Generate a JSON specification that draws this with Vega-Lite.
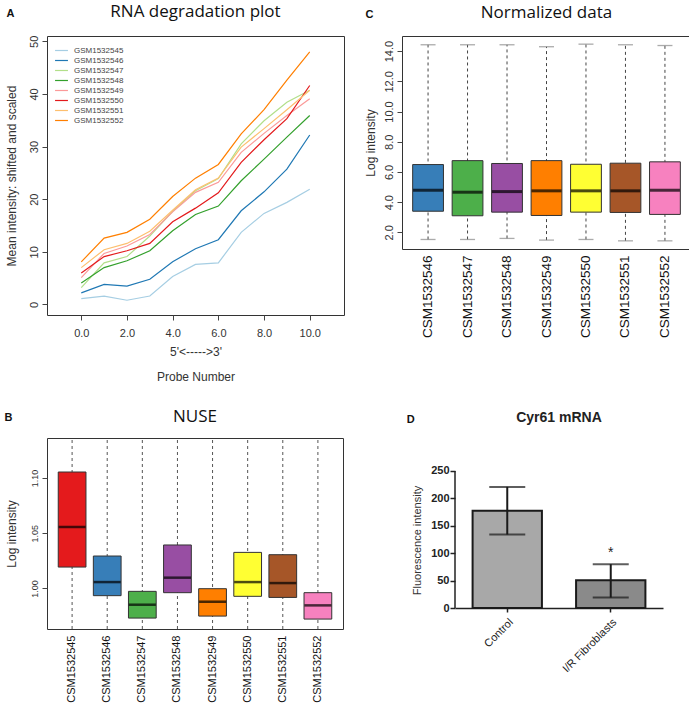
{
  "$schema": "https://vega.github.io/schema/vega-lite/v6.json",
  "padding": {"left": 4, "top": 2, "right": 0, "bottom": 0},
  "background": "white",
  "config": {
    "font": "Liberation Sans",
    "axis": {"grid": false, "domain": false, "tickColor": "#444", "labelColor": "#333", "titleColor": "#333", "titleFontWeight": "normal", "labelFontSize": 11, "titleFontSize": 12, "labelOverlap": false},
    "title": {"font": "Open Sans", "fontWeight": "normal", "fontSize": 17, "color": "#111"}
  },
  "resolve": {"scale": {"fill": "independent", "color": "independent"}},
  "spacing": 24,
  "vconcat": [
    {
      "spacing": 18,
      "resolve": {"scale": {"fill": "independent", "color": "independent"}},
      "hconcat": [
        {
          "title": {"text": "A", "anchor": "start", "font": "Liberation Sans", "fontSize": 11, "fontWeight": "bold", "offset": -16, "dx": 2},
          "vconcat": [
            {
              "width": 297, "height": 279,
              "view": {"stroke": "#333", "strokeWidth": 1},
              "title": {"text": "RNA degradation plot", "offset": 14},
              "data": {"values": [
                {"s":"GSM1532545","p":0,"v":1.1},{"s":"GSM1532545","p":1,"v":1.6},{"s":"GSM1532545","p":2,"v":0.8},{"s":"GSM1532545","p":3,"v":1.6},{"s":"GSM1532545","p":4,"v":5.3},{"s":"GSM1532545","p":5,"v":7.6},{"s":"GSM1532545","p":6,"v":7.9},{"s":"GSM1532545","p":7,"v":13.7},{"s":"GSM1532545","p":8,"v":17.3},{"s":"GSM1532545","p":9,"v":19.4},{"s":"GSM1532545","p":10,"v":21.9},
                {"s":"GSM1532546","p":0,"v":2.2},{"s":"GSM1532546","p":1,"v":3.8},{"s":"GSM1532546","p":2,"v":3.5},{"s":"GSM1532546","p":3,"v":4.8},{"s":"GSM1532546","p":4,"v":8.1},{"s":"GSM1532546","p":5,"v":10.6},{"s":"GSM1532546","p":6,"v":12.3},{"s":"GSM1532546","p":7,"v":17.8},{"s":"GSM1532546","p":8,"v":21.4},{"s":"GSM1532546","p":9,"v":25.7},{"s":"GSM1532546","p":10,"v":32.2},
                {"s":"GSM1532547","p":0,"v":3.2},{"s":"GSM1532547","p":1,"v":7.9},{"s":"GSM1532547","p":2,"v":9.1},{"s":"GSM1532547","p":3,"v":13.0},{"s":"GSM1532547","p":4,"v":17.7},{"s":"GSM1532547","p":5,"v":21.6},{"s":"GSM1532547","p":6,"v":23.9},{"s":"GSM1532547","p":7,"v":30.5},{"s":"GSM1532547","p":8,"v":34.9},{"s":"GSM1532547","p":9,"v":38.4},{"s":"GSM1532547","p":10,"v":40.7},
                {"s":"GSM1532548","p":0,"v":4.1},{"s":"GSM1532548","p":1,"v":7.0},{"s":"GSM1532548","p":2,"v":8.3},{"s":"GSM1532548","p":3,"v":10.2},{"s":"GSM1532548","p":4,"v":14.0},{"s":"GSM1532548","p":5,"v":17.1},{"s":"GSM1532548","p":6,"v":18.7},{"s":"GSM1532548","p":7,"v":23.5},{"s":"GSM1532548","p":8,"v":27.6},{"s":"GSM1532548","p":9,"v":31.8},{"s":"GSM1532548","p":10,"v":35.9},
                {"s":"GSM1532549","p":0,"v":5.1},{"s":"GSM1532549","p":1,"v":9.7},{"s":"GSM1532549","p":2,"v":11.1},{"s":"GSM1532549","p":3,"v":13.3},{"s":"GSM1532549","p":4,"v":17.6},{"s":"GSM1532549","p":5,"v":21.3},{"s":"GSM1532549","p":6,"v":23.2},{"s":"GSM1532549","p":7,"v":28.9},{"s":"GSM1532549","p":8,"v":32.5},{"s":"GSM1532549","p":9,"v":35.9},{"s":"GSM1532549","p":10,"v":39.1},
                {"s":"GSM1532550","p":0,"v":6.0},{"s":"GSM1532550","p":1,"v":9.1},{"s":"GSM1532550","p":2,"v":10.2},{"s":"GSM1532550","p":3,"v":11.6},{"s":"GSM1532550","p":4,"v":15.7},{"s":"GSM1532550","p":5,"v":18.3},{"s":"GSM1532550","p":6,"v":21.2},{"s":"GSM1532550","p":7,"v":27.0},{"s":"GSM1532550","p":8,"v":31.3},{"s":"GSM1532550","p":9,"v":35.3},{"s":"GSM1532550","p":10,"v":41.6},
                {"s":"GSM1532551","p":0,"v":7.0},{"s":"GSM1532551","p":1,"v":10.4},{"s":"GSM1532551","p":2,"v":11.6},{"s":"GSM1532551","p":3,"v":13.9},{"s":"GSM1532551","p":4,"v":17.9},{"s":"GSM1532551","p":5,"v":21.8},{"s":"GSM1532551","p":6,"v":24.0},{"s":"GSM1532551","p":7,"v":29.9},{"s":"GSM1532551","p":8,"v":33.4},{"s":"GSM1532551","p":9,"v":37.0},{"s":"GSM1532551","p":10,"v":40.7},
                {"s":"GSM1532552","p":0,"v":8.1},{"s":"GSM1532552","p":1,"v":12.6},{"s":"GSM1532552","p":2,"v":13.7},{"s":"GSM1532552","p":3,"v":16.2},{"s":"GSM1532552","p":4,"v":20.5},{"s":"GSM1532552","p":5,"v":24.0},{"s":"GSM1532552","p":6,"v":26.6},{"s":"GSM1532552","p":7,"v":32.4},{"s":"GSM1532552","p":8,"v":37.0},{"s":"GSM1532552","p":9,"v":42.6},{"s":"GSM1532552","p":10,"v":48.0}
              ]},
              "mark": {"type": "line", "strokeWidth": 1.2},
              "encoding": {
                "x": {"field": "p", "type": "quantitative", "scale": {"domain": [-1.5, 11.5], "nice": false, "zero": false},
                      "axis": {"values": [0,2,4,6,8,10], "tickCount": 20, "tickSize": 5, "labelPadding": 7, "title": ["5'<----->3'", "Probe Number"], "titleLineHeight": 25, "titlePadding": 8}},
                "y": {"field": "v", "type": "quantitative", "scale": {"domain": [-2, 51], "nice": false, "zero": false},
                      "axis": {"values": [0,10,20,30,40,50], "tickCount": 20, "tickSize": 5, "labelAngle": -90, "labelAlign": "center", "labelBaseline": "bottom", "labelPadding": 3, "title": "Mean intensity: shifted and scaled", "titlePadding": 10}},
                "color": {"field": "s", "type": "nominal",
                          "scale": {"domain": ["GSM1532545","GSM1532546","GSM1532547","GSM1532548","GSM1532549","GSM1532550","GSM1532551","GSM1532552"],
                                    "range": ["#A6CEE3","#1F78B4","#B2DF8A","#33A02C","#FB9A99","#E31A1C","#FDBF6F","#FF7F00"]},
                          "legend": {"title": null, "orient": "top-left", "offset": 9, "symbolType": "M-1.4,0H1.4", "symbolStrokeWidth": 1.2, "symbolSize": 85, "labelFontSize": 8, "labelColor": "#444", "rowPadding": 0, "labelOffset": 7}}
              }
            }
          ]
        },
        {
          "title": {"text": "C", "anchor": "start", "font": "Liberation Sans", "fontSize": 11, "fontWeight": "bold", "offset": -16, "dx": 2},
          "vconcat": [
            {
              "width": 289, "height": 213,
              "view": {"stroke": "#333", "strokeWidth": 1},
              "title": {"text": "Normalized data", "offset": 14},
              "data": {"values": [
                {"s":"CSM1532546","lo":1.53,"q1":3.40,"med":4.79,"q3":6.49,"hi":14.42},
                {"s":"CSM1532547","lo":1.53,"q1":3.10,"med":4.66,"q3":6.75,"hi":14.42},
                {"s":"CSM1532548","lo":1.60,"q1":3.34,"med":4.70,"q3":6.56,"hi":14.42},
                {"s":"CSM1532549","lo":1.49,"q1":3.12,"med":4.75,"q3":6.75,"hi":14.29},
                {"s":"CSM1532550","lo":1.53,"q1":3.34,"med":4.75,"q3":6.51,"hi":14.46},
                {"s":"CSM1532551","lo":1.44,"q1":3.32,"med":4.75,"q3":6.58,"hi":14.42},
                {"s":"CSM1532552","lo":1.44,"q1":3.19,"med":4.79,"q3":6.67,"hi":14.37}
              ]},
              "encoding": {
                "x": {"field": "s", "type": "nominal", "sort": null, "scale": {"paddingInner": 0.22, "paddingOuter": 0.27},
                      "axis": {"title": null, "ticks": false, "labelAngle": -90, "labelAlign": "right", "labelBaseline": "middle", "labelPadding": 6, "labelFontSize": 13.5, "labelColor": "#111"}}
              },
              "layer": [
                {"mark": {"type": "rule", "strokeDash": [3, 3], "color": "#444"},
                 "encoding": {"y": {"field": "lo", "type": "quantitative", "scale": {"domain": [0.9, 15], "nice": false, "zero": false},
                                    "axis": {"values": [2,4,6,8,10,12,14], "tickCount": 20, "tickSize": 5, "labelAngle": -90, "labelAlign": "center", "labelBaseline": "bottom", "labelPadding": 3, "title": "Log intensity", "titlePadding": 6}},
                              "y2": {"field": "hi"}}},
                {"mark": {"type": "tick", "color": "#888", "size": 15, "thickness": 1.3}, "encoding": {"y": {"field": "lo", "type": "quantitative"}}},
                {"mark": {"type": "tick", "color": "#888", "size": 15, "thickness": 1.3}, "encoding": {"y": {"field": "hi", "type": "quantitative"}}},
                {"mark": {"type": "bar", "stroke": "#333", "strokeWidth": 1},
                 "encoding": {"y": {"field": "q1", "type": "quantitative"}, "y2": {"field": "q3"},
                              "fill": {"field": "s", "type": "nominal", "legend": null,
                                       "scale": {"domain": ["CSM1532546","CSM1532547","CSM1532548","CSM1532549","CSM1532550","CSM1532551","CSM1532552"],
                                                 "range": ["#377EB8","#4DAF4A","#984EA3","#FF7F00","#FFFF33","#A65628","#F781BF"]}}}},
                {"mark": {"type": "tick", "color": "#000", "size": 30, "thickness": 3}, "encoding": {"y": {"field": "med", "type": "quantitative"}}}
              ]
            }
          ]
        }
      ]
    },
    {
      "spacing": 62,
      "resolve": {"scale": {"fill": "independent", "color": "independent"}},
      "hconcat": [
        {
          "title": {"text": "B", "anchor": "start", "font": "Liberation Sans", "fontSize": 11, "fontWeight": "bold", "offset": -16, "dx": 0},
          "vconcat": [
            {
              "width": 296, "height": 191,
              "view": {"stroke": "#333", "strokeWidth": 1},
              "title": {"text": "NUSE", "offset": 12},
              "data": {"values": [
                {"s":"CSM1532545","lo":0.9,"q1":1.0193,"med":1.0556,"q3":1.1054,"hi":1.2},
                {"s":"CSM1532546","lo":0.9,"q1":0.9934,"med":1.0057,"q3":1.0293,"hi":1.2},
                {"s":"CSM1532547","lo":0.9,"q1":0.9731,"med":0.9852,"q3":0.9973,"hi":1.2},
                {"s":"CSM1532548","lo":0.9,"q1":0.9961,"med":1.0097,"q3":1.0393,"hi":1.2},
                {"s":"CSM1532549","lo":0.9,"q1":0.9749,"med":0.9879,"q3":0.9997,"hi":1.2},
                {"s":"CSM1532550","lo":0.9,"q1":0.9928,"med":1.0057,"q3":1.0326,"hi":1.2},
                {"s":"CSM1532551","lo":0.9,"q1":0.9918,"med":1.0048,"q3":1.0305,"hi":1.2},
                {"s":"CSM1532552","lo":0.9,"q1":0.9722,"med":0.9846,"q3":0.9961,"hi":1.2}
              ]},
              "encoding": {
                "x": {"field": "s", "type": "nominal", "sort": null, "scale": {"paddingInner": 0.21, "paddingOuter": 0.32},
                      "axis": {"title": null, "ticks": false, "labelAngle": -90, "labelAlign": "right", "labelBaseline": "middle", "labelPadding": 6, "labelFontSize": 11, "labelColor": "#111"}}
              },
              "layer": [
                {"mark": {"type": "rule", "strokeDash": [3, 3], "color": "#555"},
                 "encoding": {"y": {"field": "lo", "type": "quantitative", "scale": {"domain": [0.9632, 1.1362], "nice": false, "zero": false, "clamp": true},
                                    "axis": {"values": [1.0, 1.05, 1.1], "tickCount": 20, "format": ".2f", "tickSize": 5, "labelFontSize": 9, "labelAngle": -90, "labelAlign": "center", "labelBaseline": "bottom", "labelPadding": 3, "title": "Log intensity", "titlePadding": 12}},
                              "y2": {"field": "hi"}}},
                {"mark": {"type": "bar", "stroke": "#333", "strokeWidth": 1},
                 "encoding": {"y": {"field": "q1", "type": "quantitative"}, "y2": {"field": "q3"},
                              "fill": {"field": "s", "type": "nominal", "legend": null,
                                       "scale": {"domain": ["CSM1532545","CSM1532546","CSM1532547","CSM1532548","CSM1532549","CSM1532550","CSM1532551","CSM1532552"],
                                                 "range": ["#E41A1C","#377EB8","#4DAF4A","#984EA3","#FF7F00","#FFFF33","#A65628","#F781BF"]}}}},
                {"mark": {"type": "tick", "color": "#000", "size": 27, "thickness": 2.5}, "encoding": {"y": {"field": "med", "type": "quantitative"}}}
              ]
            }
          ]
        },
        {
          "title": {"text": "D", "anchor": "start", "font": "Liberation Sans", "fontSize": 11, "fontWeight": "bold", "offset": -14, "dx": -5},
          "vconcat": [
            {
              "width": 208, "height": 170,
              "view": {"stroke": null},
              "title": {"text": "Cyr61 mRNA", "font": "Liberation Sans", "fontWeight": "bold", "fontSize": 14, "color": "#222", "offset": 13},
              "data": {"values": [
                {"g":"Control","v":177.5,"lo":134,"hi":221,"sig":""},
                {"g":"I/R Fibroblasts","v":50.5,"lo":19,"hi":80,"sig":"*"}
              ]},
              "resolve": {"scale": {"x": "independent"}},
              "layer": [
                {
                  "data": {"values": [{"a": 0, "b": 250}]},
                  "mark": {"type": "rule", "color": "#222", "strokeWidth": 1.5},
                  "encoding": {
                    "x": {"datum": 0, "type": "quantitative", "scale": {"domain": [0, 1]}, "axis": null},
                    "y": {"field": "a", "type": "quantitative", "scale": {"domain": [0, 310.2], "nice": false},
                          "axis": {"values": [0,50,100,150,200,250], "tickCount": 20, "labelOverlap": false, "domain": false, "tickColor": "#222", "tickSize": 5, "tickWidth": 1.5, "labelFontWeight": "bold", "labelFontSize": 11, "labelColor": "#222", "labelPadding": 1, "title": "Fluorescence intensity", "titleFontSize": 11, "titlePadding": 8, "titleY": 102}},
                    "y2": {"field": "b"}
                  }
                },
                {
                  "encoding": {
                    "x": {"field": "g", "type": "nominal", "sort": null, "scale": {"paddingInner": 0.33, "paddingOuter": 0.17},
                          "axis": {"title": null, "domain": true, "domainColor": "#222", "domainWidth": 1.5, "tickColor": "#222", "tickSize": 4, "tickWidth": 1.5, "labelAngle": -45, "labelAlign": "right", "labelBaseline": "top", "labelPadding": 4, "labelFontSize": 11, "labelColor": "#222"}}
                  },
                  "layer": [
                    {"mark": {"type": "bar", "stroke": "#1a1a1a", "strokeWidth": 2},
                     "encoding": {"y": {"field": "v", "type": "quantitative"},
                                  "fill": {"field": "g", "type": "nominal", "legend": null, "scale": {"domain": ["Control","I/R Fibroblasts"], "range": ["#a8a8a8","#8a8a8a"]}}}},
                    {"mark": {"type": "rule", "color": "#1a1a1a", "strokeWidth": 2}, "encoding": {"y": {"field": "lo", "type": "quantitative"}, "y2": {"field": "hi"}}},
                    {"mark": {"type": "tick", "color": "#1a1a1a", "size": 36, "thickness": 2}, "encoding": {"y": {"field": "hi", "type": "quantitative"}}},
                    {"mark": {"type": "tick", "color": "#1a1a1a", "size": 36, "thickness": 2}, "encoding": {"y": {"field": "lo", "type": "quantitative"}}},
                    {"mark": {"type": "text", "fontSize": 14, "baseline": "bottom", "dy": -4, "color": "#222"}, "encoding": {"y": {"field": "hi", "type": "quantitative"}, "text": {"field": "sig"}}}
                  ]
                }
              ]
            }
          ]
        }
      ]
    }
  ]
}
